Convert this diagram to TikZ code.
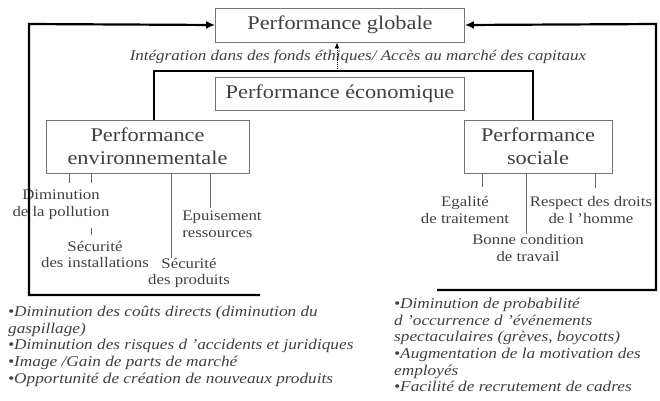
\documentclass[tikz,border=0pt]{standalone}
\usepackage{fontspec}
\setmainfont{Liberation Serif}[FakeStretch=1.15]
\usepackage{tikz}
\usetikzlibrary{arrows.meta}

\begin{document}
\begin{tikzpicture}[x=1pt,y=-1pt,%
    every node/.style={
        text=black!75,
        inner sep=0pt,
    },
    box/.style={draw=black!55, line width=0.8pt, align=center,
        font=\fontsize{19.4}{23.5}\selectfont},
    lbl/.style={align=center, font=\fontsize{14.6}{16.8}\selectfont},
    note/.style={align=left, anchor=north west,
        font=\itshape\fontsize{15}{16.6}\selectfont},
    tick/.style={draw=black!60, line width=1pt},
    link/.style={line width=2.6pt},
    feedback/.style={line width=2.2pt, -{Latex[length=9pt,width=8pt]}},
]

\useasboundingbox (0,0) rectangle (660,400);

% boxes
\node[box, minimum width=249pt, minimum height=34pt] (globale) at (340,25) {Performance globale};
\node[box, minimum width=249pt, minimum height=33pt] (eco) at (340,93.5) {Performance \'economique};
\node[box, minimum width=203pt, minimum height=53pt] (env) at (147.5,146.5) {Performance\\environnementale};
\node[box, minimum width=148pt, minimum height=53pt] (soc) at (538,146.5) {Performance\\sociale};

% label between globale and eco
\node[font=\itshape\fontsize{14.8}{16}\selectfont] (integ) at (358,57)
    {Int\'egration dans des fonds \'ethiques/ Acc\`es au march\'e des capitaux};

% thick line joining env and soc
\coordinate (jl) at (154,71);
\coordinate (jr) at (533,71);
\coordinate (jm) at (337,71);
\draw[link] (env.north -| jl) -- (jl) -- (jr) -- (soc.north -| jr);
\draw[densely dotted, line width=1pt, -{Latex[length=6pt,width=5pt]}] (jm) -- (globale.south -| jm);

% environmental items
\node[lbl] (dim) at (61,205) {Diminution\\de la pollution};
\node[lbl] (secinst) at (95,254.5) {S\'ecurit\'e\\des installations};
\node[lbl] (secprod) at (189,273) {S\'ecurit\'e\\des produits};
\node[lbl, align=left] (epuis) at (222,224.5) {Epuisement\\ressources};

\draw[tick] (env.south -| 69,0) -- ++(0,10);
\draw[tick] (env.south -| 91,0) -- ++(0,10);
\draw[tick] (secinst.north -| 91,0) ++(0,-6) -- ++(0,-7);
\draw[tick] (env.south -| 171,0) -- (secprod.north -| 171,0);
\draw[tick] (env.south -| 210,0) -- ++(0,35);

% social items
\node[lbl] (egal) at (465,210) {Egalit\'e\\de traitement};
\node[lbl] (bonne) at (528,248) {Bonne condition\\de travail};
\node[lbl] (respect) at (591,210) {Respect des droits\\de l 'homme};

\draw[tick] (soc.south -| 482,0) -- ++(0,14);
\draw[tick] (soc.south -| 526,0) -- (bonne.north -| 526,0);
\draw[tick] (soc.south -| 595,0) -- ++(0,15);

% feedback arrows to globale
\draw[feedback] (260,295) -- (29,295) -- (29,24) -- (globale.west);
\draw[feedback] (437,290) -- (656,290) -- (656,24) -- (globale.east);

% effects
\node[note] (effenv) at (8,306) {%
    \textbullet Diminution des co\^uts directs (diminution du\\
    gaspillage)\\
    \textbullet Diminution des risques d 'accidents et juridiques\\
    \textbullet Image /Gain de parts de march\'e\\
    \textbullet Opportunit\'e de cr\'eation de nouveaux produits};
\node[note] (effsoc) at (394,298) {%
    \textbullet Diminution de probabilit\'e\\
    d 'occurrence d '\'ev\'enements\\
    spectaculaires (gr\`eves, boycotts)\\
    \textbullet Augmentation de la motivation des\\
    employ\'es\\
    \textbullet Facilit\'e de recrutement de cadres};

\end{tikzpicture}
\end{document}
